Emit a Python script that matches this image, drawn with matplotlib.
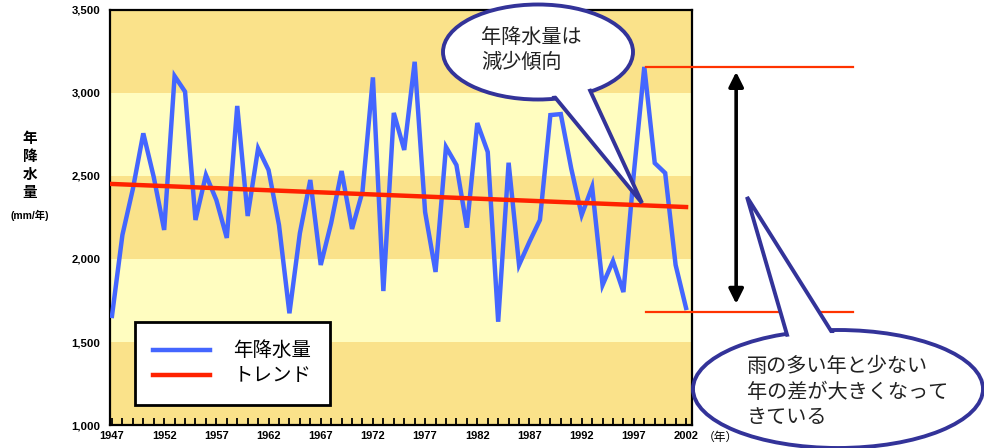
import matplotlib
matplotlib.use("Agg")
import matplotlib.pyplot as plt
from matplotlib.patches import Ellipse, Polygon

plt.rcParams['font.family'] = ['Liberation Sans', 'Noto Sans CJK JP', 'DejaVu Sans']

# Annual precipitation (mm/year)
years = list(range(1947, 2003))
rain = [1657, 2145, 2422, 2757, 2494, 2175, 3102, 3008, 2235, 2506,
        2355, 2127, 2922, 2259, 2666, 2536, 2205, 1673, 2155, 2476,
        1964, 2217, 2530, 2181, 2406, 3094, 1807, 2880, 2657, 3188,
        2283, 1922, 2675, 2566, 2189, 2819, 2645, 1622, 2580, 1964,
        2104, 2235, 2867, 2873, 2545, 2265, 2434, 1843, 1988, 1801,
        2518, 3157, 2578, 2518, 1964, 1705]

# Linear trend end points
trend_years = [1947, 2002]
trend_vals = [2452, 2313]

band_edges = [1000, 1500, 2000, 2500, 3000, 3500]
band_colors = ['#FAE28A', '#FFFDC0', '#FAE28A', '#FFFDC0', '#FAE28A']

ytick_vals = [1000, 1500, 2000, 2500, 3000, 3500]
ytick_labels = ['1,000', '1,500', '2,000', '2,500', '3,000', '3,500']
xtick_years = list(range(1947, 2003, 5))

W, H = 984, 448
fig = plt.figure(figsize=(W / 100, H / 100), dpi=100)
ax = fig.add_axes([110 / W, (H - 425) / H, 582 / W, 415 / H])

x0, x1 = 1946.81, 2002.57
ax.set_xlim(x0, x1)
ax.set_ylim(1000, 3500)

for lo, hi, c in zip(band_edges[:-1], band_edges[1:], band_colors):
    ax.axhspan(lo, hi, color=c, lw=0, zorder=0)

ax.plot(years, rain, color='#4466FF', lw=3.2, solid_joinstyle='miter',
        label='年降水量', zorder=3)
ax.plot(trend_years, trend_vals, color='#FF2200', lw=3.2,
        label='トレンド', zorder=4)

for s in ax.spines.values():
    s.set_linewidth(1.6)
    s.set_color('black')

ax.set_yticks(ytick_vals)
ax.set_yticklabels(ytick_labels, fontsize=8.2, fontweight='bold')
ax.tick_params(axis='y', length=0, pad=7)
ax.set_xticks(xtick_years)
ax.set_xticklabels([str(y) for y in xtick_years], fontsize=8, fontweight='bold')
ax.set_xticks(years, minor=True)
ax.tick_params(axis='x', which='both', direction='in', length=5, width=1.3,
               pad=4, top=False)

leg = ax.legend(loc='upper left', bbox_to_anchor=(135 / W, 1 - 322 / H),
                bbox_transform=fig.transFigure, borderaxespad=0,
                fancybox=False, edgecolor='black', framealpha=1,
                prop={'family': ['Noto Sans CJK JP'], 'size': 14},
                handlelength=2.9, handletextpad=1.2, labelspacing=0.2,
                borderpad=0.95)
leg.get_frame().set_linewidth(2)
leg.set_zorder(6)

# Range markers for the wettest and driest of the recent years
hi_val = max(rain[-6:])
lo_val = rain[-1]
ax.plot([1998.15, 2017.95], [hi_val, hi_val], color='#FF3300', lw=1.6,
        clip_on=False, zorder=5)
ax.plot([1998.15, 2017.95], [lo_val - 25, lo_val - 25], color='#FF3300',
        lw=1.6, clip_on=False, zorder=5)
ax.annotate('', xy=(2006.8, hi_val - 30), xytext=(2006.8, lo_val + 25),
            arrowprops=dict(arrowstyle='<|-|>', color='black', lw=2.6,
                            mutation_scale=22, shrinkA=0, shrinkB=0),
            annotation_clip=False, zorder=5)

# Axis titles
fig.text(30 / W, 1 - 165 / H, '年\n降\n水\n量', ha='center', va='center',
         fontsize=10.5, fontweight='bold', family=['Noto Sans CJK JP'],
         linespacing=1.15)
fig.text(30 / W, 1 - 215 / H, '(mm/年)', ha='center', va='center',
         fontsize=7.5, fontweight='bold',
         family=['Liberation Sans', 'Noto Sans CJK JP'])
fig.text(720 / W, 1 - 437 / H, '（年）', ha='center', va='center',
         fontsize=8.5, family=['Noto Sans CJK JP'])

# Speech bubbles drawn in pixel space on top of the chart
ov = fig.add_axes([0, 0, 1, 1], zorder=10)
ov.set_xlim(0, W)
ov.set_ylim(H, 0)
ov.axis('off')
ov.patch.set_alpha(0)

navy = '#333399'


def bubble(cx, cy, w, h, base, tip, text, tx, ty, spacing):
    ov.add_patch(Ellipse((cx, cy), w, h, facecolor='white', edgecolor=navy,
                         lw=2.8, zorder=1))
    ov.add_patch(Polygon([base[0], tip, base[1]], closed=True,
                         facecolor='white', edgecolor=navy, lw=2.8,
                         joinstyle='miter', zorder=2))
    ov.add_patch(Ellipse((cx, cy), w - 6, h - 6, facecolor='white',
                         edgecolor='none', zorder=3))
    ov.text(tx, ty, text, ha='left', va='center', fontsize=14.5,
            family=['Noto Sans CJK JP'], linespacing=spacing, zorder=4,
            color='#222222')


bubble(538, 52, 190, 95, [(549, 90), (588, 86)], (642, 203),
       '年降水量は\n減少傾向', 481, 50, 1.3)
bubble(838, 389, 290, 118, [(790, 345), (838, 342)], (747, 197),
       '雨の多い年と少ない\n年の差が大きくなって\nきている', 747, 392, 1.25)

fig.savefig('out.png', dpi=100)
